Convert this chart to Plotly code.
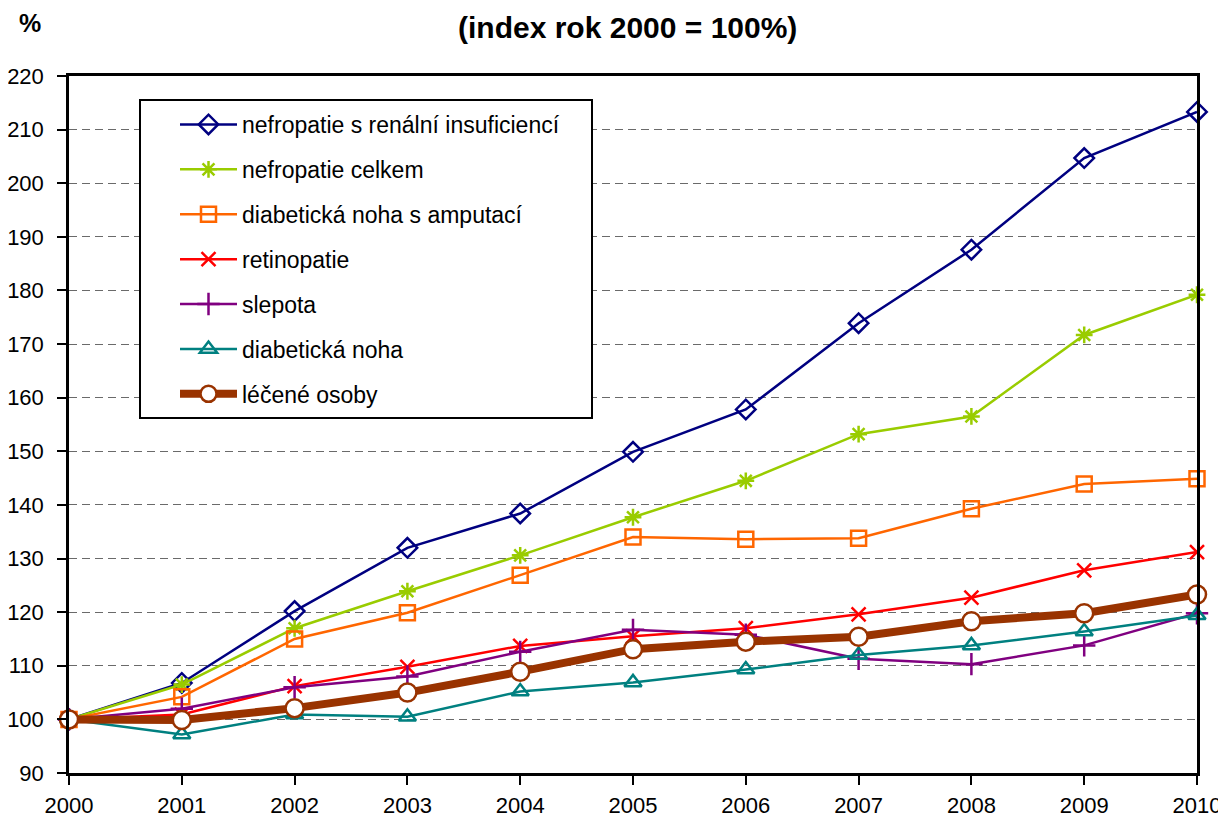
import plotly.graph_objects as go

years = [2000, 2001, 2002, 2003, 2004, 2005, 2006, 2007, 2008, 2009, 2010]

nefro_renal = [100, 106.8, 120.2, 132.0, 138.4, 149.9, 157.8, 173.9, 187.6, 204.7, 213.3]
nefro_celkem = [100, 106.5, 117.0, 123.9, 130.6, 137.7, 144.5, 153.2, 156.5, 171.7, 179.2]
noha_amput = [100, 104.2, 115.0, 119.9, 126.9, 134.0, 133.6, 133.8, 139.3, 143.9, 144.9]
retinopatie = [100, 100.9, 106.2, 109.8, 113.7, 115.5, 117.0, 119.6, 122.7, 127.8, 131.2]
slepota = [100, 102.0, 106.0, 108.0, 112.6, 116.7, 115.8, 111.3, 110.3, 113.8, 119.8]
noha = [100, 97.2, 100.9, 100.5, 105.2, 106.9, 109.3, 112.0, 113.8, 116.4, 119.4]
lecene = [100, 99.9, 102.1, 105.0, 108.9, 113.1, 114.5, 115.4, 118.3, 119.8, 123.3]

names = [
    "nefropatie s renální insuficiencí",
    "nefropatie celkem",
    "diabetická noha s amputací",
    "retinopatie",
    "slepota",
    "diabetická noha",
    "léčené osoby",
]

y_ticks = list(range(90, 221, 10))

# page body has an 8px margin; figure coordinates are window coordinates minus 8
W, H = 1218, 809
PL, PR, PT, PB = 61, 1189, 68, 765  # plot area in figure pixels
pw, ph = PR - PL, PB - PT


def px(xw):
    return (xw - 8 - PL) / pw


def py(yw):
    return (PB - (yw - 8)) / ph


fig = go.Figure()

specs = [
    (nefro_renal, names[0], "#000080", "diamond-open", 15),
    (nefro_celkem, names[1], "#99CC00", "asterisk-open", 14),
    (noha_amput, names[2], "#FF6600", "square-open", 15),
    (retinopatie, names[3], "#FF0000", "x-thin-open", 14),
    (slepota, names[4], "#800080", "cross-thin-open", 16),
    (noha, names[5], "#008080", "triangle-up-open", 15),
]

for i, (vals, name, color, sym, size) in enumerate(specs):
    fig.add_trace(go.Scatter(
        x=years, y=vals, name=name, mode="lines+markers",
        line=dict(color=color, width=2.5),
        marker=dict(symbol=sym, size=size, color=color, line=dict(color=color, width=2.5)),
        cliponaxis=False, legendgroup="g%d" % i,
    ))

fig.add_trace(go.Scatter(
    x=years, y=lecene, name=names[6], mode="lines+markers",
    line=dict(color="#993300", width=8),
    marker=dict(symbol="circle", size=18, color="white", line=dict(color="#993300", width=2.5)),
    cliponaxis=False, legendgroup="g6",
))

fig.update_layout(
    width=W, height=H,
    margin=dict(l=PL, r=W - PR, t=PT, b=H - PB, autoexpand=False),
    paper_bgcolor="white", plot_bgcolor="white",
    font=dict(family="Liberation Sans, Arial, sans-serif", color="black", size=22),
    showlegend=True,
    legend=dict(
        x=px(175), y=py(103), xanchor="left", yanchor="top",
        bgcolor="rgba(0,0,0,0)", borderwidth=0,
        font=dict(size=23, family="Liberation Sans, Arial, sans-serif"),
        tracegroupgap=12, traceorder="grouped", itemwidth=57,
    ),
    shapes=[dict(
        type="rect", xref="paper", yref="paper",
        x0=px(140), x1=px(592), y0=py(418), y1=py(100),
        line=dict(color="black", width=2), fillcolor="white", layer="above",
    )],
    annotations=[
        dict(text="<b>(index rok 2000 = 100%)</b>", x=px(627), y=py(9),
             xref="paper", yref="paper", xanchor="center", yanchor="top",
             showarrow=False, font=dict(size=30)),
        dict(text="<b>%</b>", x=px(30), y=py(23),
             xref="paper", yref="paper", xanchor="center", yanchor="middle",
             showarrow=False, font=dict(size=25)),
    ],
)

fig.update_xaxes(
    range=[2000, 2010], tickvals=years, ticktext=[str(y) for y in years],
    showgrid=False, showline=True, linecolor="black", linewidth=2.5, mirror=True,
    ticks="outside", ticklen=9, tickwidth=2, tickcolor="black",
    tickfont=dict(size=22), zeroline=False, ticklabelstandoff=2,
    automargin=False, ticklabeloverflow="allow",
)
fig.update_yaxes(
    range=[90, 220], tickvals=y_ticks,
    showgrid=True, gridcolor="#6a6a6a", gridwidth=1.3, griddash="8px,5px",
    showline=True, linecolor="black", linewidth=2.5, mirror=True,
    ticks="outside", ticklen=9, tickwidth=2, tickcolor="black",
    tickfont=dict(size=22), zeroline=False, ticklabelstandoff=9,
    automargin=False, ticklabeloverflow="allow",
)

fig.write_html("out.html")
